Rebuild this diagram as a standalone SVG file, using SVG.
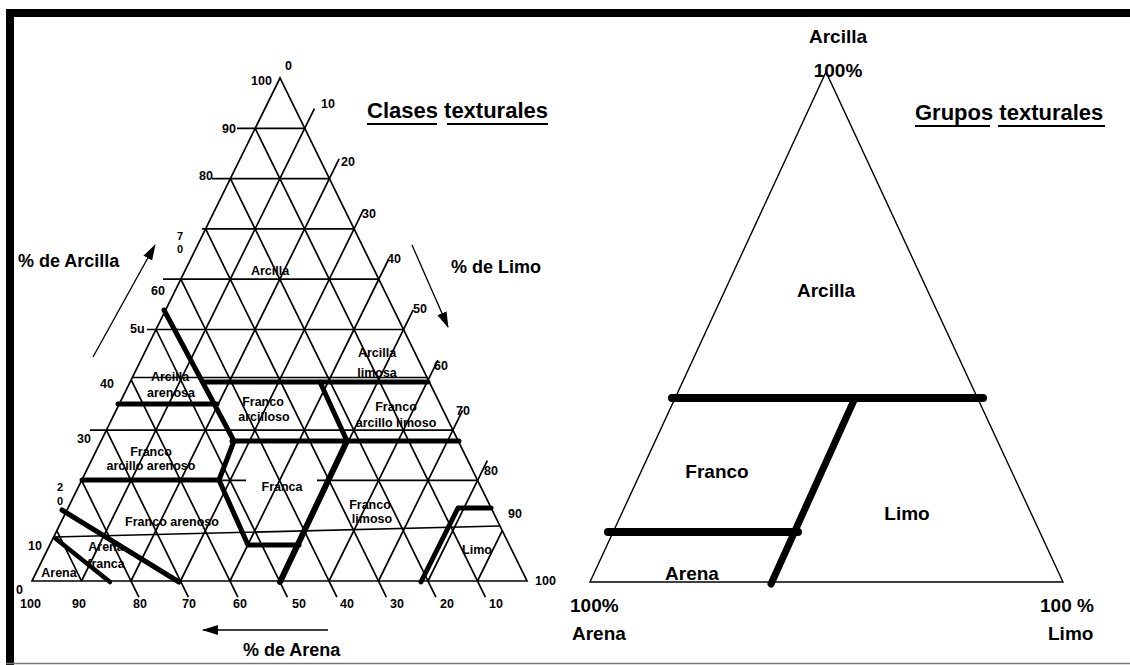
<svg xmlns="http://www.w3.org/2000/svg" width="1130" height="665" viewBox="0 0 1130 665">
<defs>
<style>
.thin{stroke:#000;stroke-width:1.7;fill:none}
.axl{stroke:#000;stroke-width:1.3;fill:none}
.thick{stroke:#000;stroke-width:5;fill:none;stroke-linecap:round;stroke-linejoin:round}
.rthick{stroke:#000;stroke-width:8;fill:none;stroke-linecap:round}
.num{font-family:"Liberation Sans",Arial,sans-serif;font-weight:bold;font-size:12.5px;fill:#000}
.sm{font-size:11px}
.lab{font-family:"Liberation Sans",Arial,sans-serif;font-weight:bold;font-size:12.5px;fill:#000;text-anchor:middle}
.axis{font-family:"Liberation Sans",Arial,sans-serif;font-weight:bold;font-size:18px;fill:#000}
.title{font-family:"Liberation Sans",Arial,sans-serif;font-weight:bold;font-size:22px;fill:#000}
.rlab{font-family:"Liberation Sans",Arial,sans-serif;font-weight:bold;font-size:19px;fill:#000}
</style>
<marker id="ah" viewBox="0 0 16 10" refX="15" refY="5" markerWidth="16" markerHeight="10" markerUnits="userSpaceOnUse" orient="auto">
<path d="M0,0 L16,5 L0,10 Z" fill="#000"/>
</marker>
</defs>
<rect width="1130" height="665" fill="#fff"/>
<g id="frame">
<rect x="6" y="9" width="1124" height="8" fill="#000"/>
<rect x="6" y="9" width="8" height="656" fill="#000"/>
<line x1="6" y1="663.5" x2="1130" y2="663.5" stroke="#777" stroke-width="1.5"/>
</g>

<g id="left-triangle">
<g id="grid">
<path class="thin" d="M32,581 L527,581 L280,78 Z"/>
<path class="thin" d="M237,128.3 H304.7 M212,178.6 H329.4 M202,228.9 H354.1 M163,279.2 H378.8 M147,329.5 H403.5 M132,377.5 H427.5 M90,430.1 H452.9 M82,480.4 H246 M317,480.4 H477.6 M54,537 L500,526"/>
<path class="thin" d="M81.5,581 L314.4,108.6 M131,581 L339.1,158.9 M180.5,581 L363.8,209.2 M230,581 L388.5,259.5 M279.5,581 L413.2,309.8 M329,581 L437.9,360.1 M378.5,581 L462.6,410.4 M428,581 L487.3,460.7 M477.5,581 L502.3,530.7"/>
<path class="thin" d="M56.8,530.7 L81.5,581 M81.6,480.4 L138.9,597.2 M106.4,430.1 L188.4,597.2 M131.2,379.8 L237.9,597.2 M156,329.5 L287.4,597.2 M180.8,279.2 L336.9,597.2 M205.6,228.9 L386.4,597.2 M230.4,178.6 L435.9,597.2 M255.2,128.3 L485.4,597.2"/>
</g>
<g id="boundaries">
<path class="thick" d="M164,310 L234,441"/>
<path class="thick" d="M118,404 L217,404"/>
<path class="thick" d="M203,382 L428,382"/>
<path class="thick" d="M232,441 L459,441"/>
<path class="thick" d="M320,382 L347,441"/>
<path class="thick" style="stroke-width:6" d="M347,441 L280,582"/>
<path class="thick" d="M234,441 L219,480 L248,545 L299,545"/>
<path class="thick" d="M82,480 L219,480"/>
<path class="thick" d="M62,510 L179,582"/>
<path class="thick" style="stroke-width:4.5" d="M55,538 L110,582"/>
<path class="thick" d="M421,582 L458,508 L491,508"/>
</g>
<g id="clay-labels">
<text class="num" x="251" y="85">100</text>
<text class="num" x="285" y="70">0</text>
<text class="num" x="222" y="133">90</text>
<text class="num" x="199" y="180">80</text>
<text class="num sm" x="177" y="240">7</text>
<text class="num sm" x="177" y="253">0</text>
<text class="num" x="151" y="295">60</text>
<text class="num" x="130" y="333">5u</text>
<text class="num" x="100" y="388">40</text>
<text class="num" x="77" y="443">30</text>
<text class="num sm" x="57" y="491">2</text>
<text class="num sm" x="57" y="505">0</text>
<text class="num" x="28" y="550">10</text>
<text class="num" x="16" y="594">0</text>
</g>
<g id="silt-labels">
<text class="num" x="321" y="108">10</text>
<text class="num" x="341" y="166">20</text>
<text class="num" x="362" y="218">30</text>
<text class="num" x="387" y="263">40</text>
<text class="num" x="413" y="313">50</text>
<text class="num" x="434" y="370">60</text>
<text class="num" x="456" y="415">70</text>
<text class="num" x="484" y="475">80</text>
<text class="num" x="508" y="518">90</text>
<text class="num" x="535" y="585">100</text>
</g>
<g id="sand-labels">
<text class="num" x="20" y="608">100</text>
<text class="num" x="72" y="608">90</text>
<text class="num" x="133" y="608">80</text>
<text class="num" x="182" y="608">70</text>
<text class="num" x="233" y="608">60</text>
<text class="num" x="292" y="608">50</text>
<text class="num" x="340" y="608">40</text>
<text class="num" x="390" y="608">30</text>
<text class="num" x="440" y="608">20</text>
<text class="num" x="489" y="608">10</text>
</g>
<g id="class-labels">
<text class="lab" x="270" y="275">Arcilla</text>
<text class="lab" x="377" y="357">Arcilla</text>
<text class="lab" x="377" y="377">limosa</text>
<text class="lab" x="170" y="381">Arcilla</text>
<text class="lab" x="171" y="397">arenosa</text>
<text class="lab" x="263" y="406">Franco</text>
<text class="lab" x="264" y="421">arcilloso</text>
<text class="lab" x="396" y="411">Franco</text>
<text class="lab" x="396" y="427">arcillo limoso</text>
<text class="lab" x="151" y="456">Franco</text>
<text class="lab" x="151" y="470">arcillo arenoso</text>
<text class="lab" x="282" y="491">Franca</text>
<text class="lab" x="370" y="509">Franco</text>
<text class="lab" x="372" y="523">limoso</text>
<text class="lab" x="172" y="526">Franco arenoso</text>
<text class="lab" x="106" y="551">Arena</text>
<text class="lab" x="106" y="568">franca</text>
<text class="lab" x="59" y="577">Arena</text>
<text class="lab" x="477" y="554">Limo</text>
</g>
<g id="axes">
<line class="axl" x1="93" y1="357" x2="155" y2="245" marker-end="url(#ah)"/>
<text class="axis" x="18" y="267">% de Arcilla</text>
<line class="axl" x1="412" y1="245" x2="448" y2="327" marker-end="url(#ah)"/>
<text class="axis" x="451" y="273">% de Limo</text>
<line class="axl" x1="328" y1="630" x2="203" y2="630" marker-end="url(#ah)"/>
<text class="axis" x="243" y="656">% de Arena</text>
</g>
<g id="title-left">
<text class="title" x="367" y="118">Clases texturales</text>
<line x1="367" y1="124" x2="437" y2="124" stroke="#000" stroke-width="1.8"/>
<line x1="447" y1="124" x2="548" y2="124" stroke="#000" stroke-width="1.8"/>
</g>
</g>

<g id="right-triangle">
<path class="thin" style="stroke-width:1.4" d="M590,582 L1063,582 L826,72 Z"/>
<g id="groups-boundaries">
<line class="rthick" x1="672" y1="398" x2="983" y2="398"/>
<line class="rthick" style="stroke-width:7" x1="855" y1="398" x2="771" y2="584"/>
<line class="rthick" x1="608" y1="532" x2="798" y2="532"/>
</g>
<g id="groups-labels">
<text class="rlab" x="838" y="43" text-anchor="middle">Arcilla</text>
<text class="rlab" x="838" y="77" text-anchor="middle">100%</text>
<text class="rlab" x="826" y="297" text-anchor="middle">Arcilla</text>
<text class="rlab" x="717" y="478" text-anchor="middle">Franco</text>
<text class="rlab" x="907" y="520" text-anchor="middle">Limo</text>
<text class="rlab" x="692" y="580" text-anchor="middle">Arena</text>
<text class="rlab" x="570" y="612">100%</text>
<text class="rlab" x="572" y="640">Arena</text>
<text class="rlab" x="1040" y="612">100 %</text>
<text class="rlab" x="1048" y="640">Limo</text>
</g>
<g id="title-right">
<text class="title" x="915" y="120">Grupos texturales</text>
<line x1="915" y1="126" x2="990" y2="126" stroke="#000" stroke-width="1.8"/>
<line x1="998" y1="126" x2="1105" y2="126" stroke="#000" stroke-width="1.8"/>
</g>
</g>
</svg>
